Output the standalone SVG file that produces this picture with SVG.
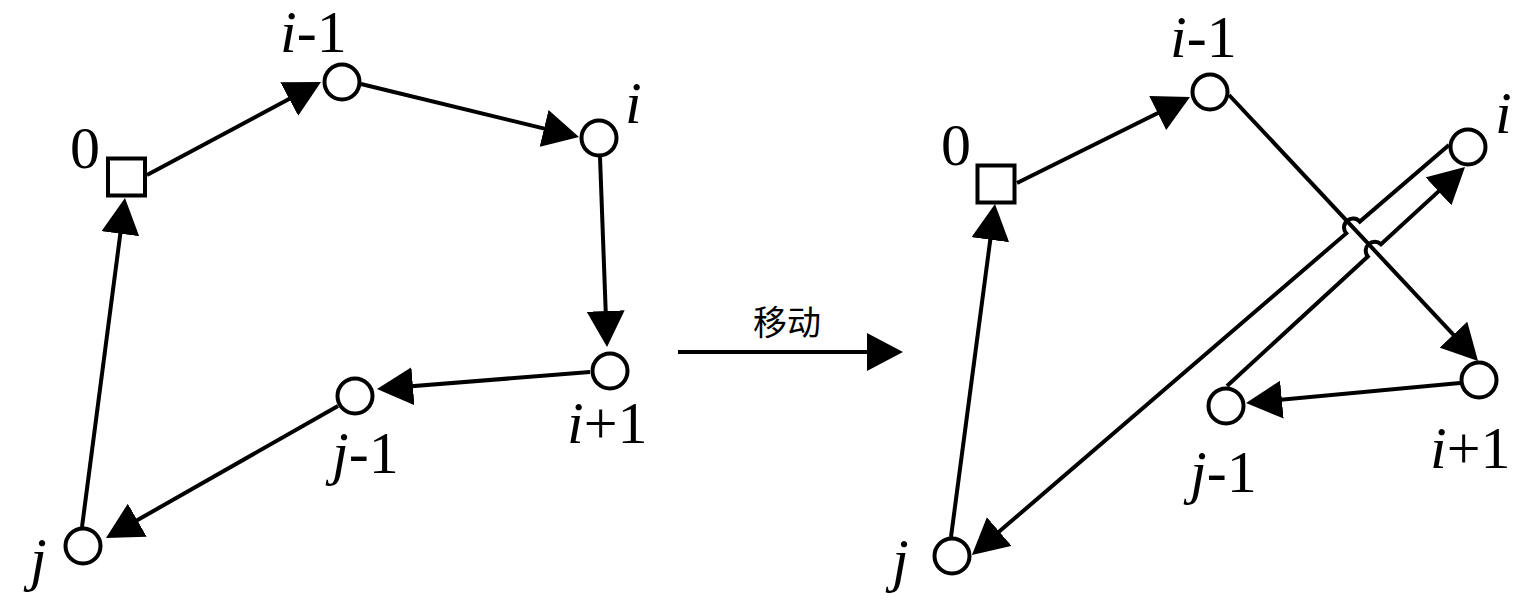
<svg xmlns="http://www.w3.org/2000/svg" width="1535" height="602" viewBox="0 0 1535 602">
<style>
.n{fill:#fff;stroke:#000;stroke-width:4}
.e{fill:none;stroke:#000;stroke-width:4;marker-end:url(#ah)}
.t{font-family:"Liberation Serif","Times New Roman",serif;font-size:60px;fill:#000}
.it{font-style:italic}
.cn{font-family:"Noto Sans CJK SC","Noto Sans",sans-serif;font-size:34px;fill:#000}
</style>
<defs>
<marker id="ah" markerUnits="userSpaceOnUse" markerWidth="36" markerHeight="38" viewBox="0 0 36 38" refX="30" refY="19" orient="auto">
<path d="M0,0 L36,19 L0,38 Z" fill="#000"/>
</marker>
</defs>
<rect width="1535" height="602" fill="#fff"/>
<g id="connectors">
<line class="e" x1="147" y1="175" x2="315.7" y2="84.8"/>
<line class="e" x1="361" y1="84" x2="573.2" y2="135.6"/>
<line class="e" x1="600" y1="157" x2="606.8" y2="341"/>
<line class="e" x1="590" y1="372" x2="383" y2="388.5"/>
<line class="e" x1="338" y1="406" x2="111.2" y2="535"/>
<line class="e" x1="82" y1="527" x2="124.2" y2="204"/>
<line class="e" x1="678" y1="352" x2="897" y2="352"/>
<line class="e" x1="1017" y1="183" x2="1184.6" y2="99.7"/>
<line class="e" x1="1229" y1="95" x2="1473.9" y2="356.6"/>
<line class="e" x1="1460" y1="383" x2="1252" y2="402.4"/>
<path class="e" d="M1227,386 L1367.8,256.5 A9,9 0 0 1 1381,244.3 L1460.6,171.1"/>
<path class="e" d="M1449,145 L1359.8,221.6 A9,9 0 0 0 1346.2,233.4 L976.5,551.1"/>
<line class="e" x1="951" y1="537" x2="994.2" y2="210"/>
</g>
<text class="cn" x="753" y="335">移动</text>
<g id="L0"><rect class="n" x="108" y="158.5" width="37" height="37"/><text class="t" x="70" y="168">0</text></g>
<g id="Lim1"><circle class="n" cx="342" cy="82" r="17.5"/><text class="t" x="280" y="52"><tspan class="it">i</tspan>-1</text></g>
<g id="Li"><circle class="n" cx="599" cy="138" r="17.5"/><text class="t it" x="625" y="123">i</text></g>
<g id="Lip1"><circle class="n" cx="610" cy="371" r="17.5"/><text class="t" x="567" y="443"><tspan class="it">i</tspan>+1</text></g>
<g id="Ljm1"><circle class="n" cx="355" cy="396" r="17.5"/><text class="t" x="332" y="473"><tspan class="it">j</tspan>-1</text></g>
<g id="Lj"><circle class="n" cx="83" cy="546" r="17.5"/><text class="t it" x="30" y="579">j</text></g>
<g id="R0"><rect class="n" x="977.5" y="165.5" width="37" height="37"/><text class="t" x="941" y="165">0</text></g>
<g id="Rim1"><circle class="n" cx="1210" cy="92" r="17.5"/><text class="t" x="1170" y="57"><tspan class="it">i</tspan>-1</text></g>
<g id="Ri"><circle class="n" cx="1468" cy="147" r="17.5"/><text class="t it" x="1495" y="133">i</text></g>
<g id="Rip1"><circle class="n" cx="1479" cy="380" r="17.5"/><text class="t" x="1430" y="468"><tspan class="it">i</tspan>+1</text></g>
<g id="Rjm1"><circle class="n" cx="1226" cy="406" r="17.5"/><text class="t" x="1190" y="492"><tspan class="it">j</tspan>-1</text></g>
<g id="Rj"><circle class="n" cx="952" cy="556" r="17.5"/><text class="t it" x="892" y="580">j</text></g>
</svg>
